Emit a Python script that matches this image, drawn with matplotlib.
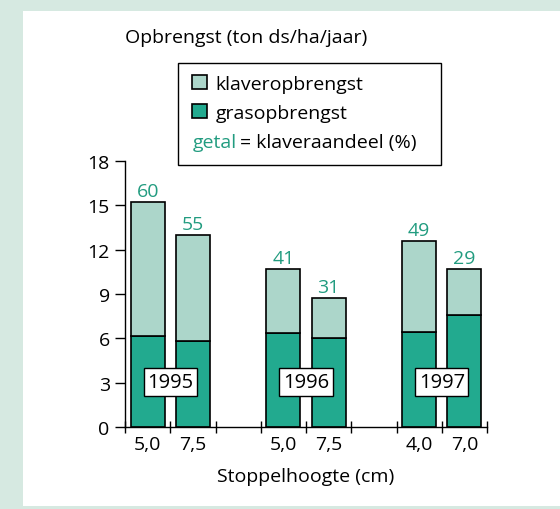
import matplotlib.pyplot as plt
from matplotlib.patches import Rectangle

plt.rcParams['font.family'] = ['Open Sans', 'DejaVu Sans']

# data
hoogte = ['5,0', '7,5', '5,0', '7,5', '4,0', '7,0']
gras = [6.15, 5.85, 6.35, 6.0, 6.45, 7.6]
klaver = [9.1, 7.15, 4.35, 2.75, 6.15, 3.1]
aandeel = [60, 55, 41, 31, 49, 29]
jaren = ['1995', '1996', '1997']

pos = [0.5, 1.5, 3.5, 4.5, 6.5, 7.5]
jaar_pos = [1, 4, 7]

c_gras = '#22aa8f'
c_klaver = '#acd6ca'
c_tekst = '#229c80'
bg = '#d6e9e1'
fs = 14

fig = plt.figure(figsize=(5.6, 5.1), dpi=100, facecolor=bg)
fig.add_artist(Rectangle((23/560, 1 - 507/510), 537/560, 495/510,
                         transform=fig.transFigure, facecolor='white',
                         edgecolor='none', zorder=0))

ax = fig.add_axes([125/560, 1 - 428/510, 362/560, 266/510])
ax.set_facecolor('none')

b1 = ax.bar(pos, gras, width=0.75, color=c_gras, edgecolor='black', linewidth=1.2)
b2 = ax.bar(pos, klaver, bottom=gras, width=0.75, color=c_klaver,
            edgecolor='black', linewidth=1.2)

for x, g, k, a in zip(pos, gras, klaver, aandeel):
    ax.annotate(str(a), (x, g + k), xytext=(0, 1), textcoords='offset points',
                ha='center', va='bottom', color=c_tekst, fontsize=fs)

for x, j in zip(jaar_pos, jaren):
    ax.text(x, 3.05, j, ha='center', va='center', fontsize=fs + 0.5,
            bbox=dict(boxstyle='square,pad=0.18', facecolor='white',
                      edgecolor='black', linewidth=1))

ax.set_xlim(0, 8)
ax.set_ylim(0, 18)
ax.set_yticks(range(0, 19, 3))
ax.set_xticks(range(0, 9))
ax.set_xticklabels([])
ax.set_xticks(pos, minor=True)
ax.set_xticklabels(hoogte, minor=True)
ax.tick_params(axis='x', which='major', direction='inout', length=8, width=1)
ax.tick_params(axis='x', which='minor', length=0, pad=6, labelsize=fs)
ax.tick_params(axis='y', direction='out', length=7, width=1, labelsize=fs, pad=4)
for s in ['top', 'right']:
    ax.spines[s].set_visible(False)
ax.spines['left'].set_linewidth(1)
ax.spines['bottom'].set_linewidth(1)

ax.set_xlabel('Stoppelhoogte (cm)', fontsize=fs, labelpad=10)
fig.text(125/560, 1 - 38/510, 'Opbrengst (ton ds/ha/jaar)', fontsize=fs,
         ha='left', va='center')

# legend box
fig.add_artist(Rectangle((178/560, 1 - 166/510), 263/560, 102/510,
                         transform=fig.transFigure, facecolor='white',
                         edgecolor='black', linewidth=1))
leg = fig.legend([b2, b1], ['klaveropbrengst', 'grasopbrengst'],
                 loc='upper left', bbox_to_anchor=(192/560, 1 - 76/510),
                 frameon=False, fontsize=fs, handlelength=0.75, handleheight=0.75,
                 handletextpad=0.45, labelspacing=0.55, borderpad=0, borderaxespad=0)
t1 = fig.text(193/560, 1 - 143/510, 'getal', color=c_tekst, fontsize=fs,
              ha='left', va='center')
fig.canvas.draw()
bb = t1.get_window_extent()
fig.text(bb.x1 / 560 + 0.006, 1 - 143/510, '= klaveraandeel (%)', fontsize=fs,
         ha='left', va='center')

fig.savefig('out.png', dpi=100, facecolor=bg)
